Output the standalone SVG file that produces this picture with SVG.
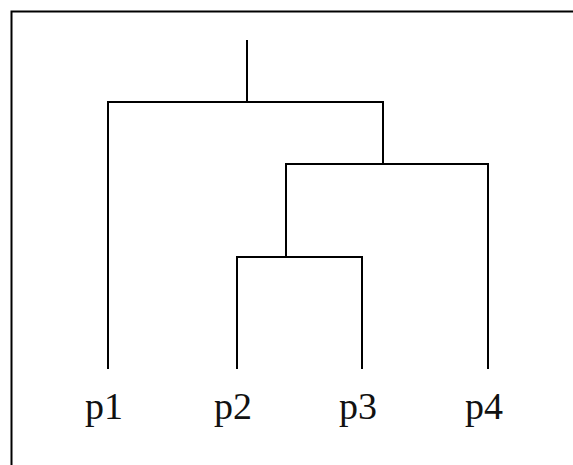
<svg xmlns="http://www.w3.org/2000/svg" width="573" height="465" viewBox="0 0 573 465">
  <style>
    .frame { fill: none; stroke: #000; stroke-width: 2; }
    .link { fill: none; stroke: #000; stroke-width: 2; stroke-linejoin: miter; stroke-linecap: square; }
    .label { font-family: "Liberation Serif", "Times New Roman", serif; font-size: 38px; fill: #111; text-anchor: middle; }
  </style>
  <rect width="573" height="465" fill="#fff"/>
  <!-- frame: only the top and left edges fall inside the canvas -->
  <path class="frame" d="M11.5 466 V11.5 H574"/>

  <g id="connectors">
    <!-- root stem -->
    <path class="link" d="M247 41 V102"/>
    <!-- root merge: p1 with {p2,p3,p4} -->
    <path class="link" d="M108 368 V102 H383 V164"/>
    <!-- merge {p2,p3} with p4 -->
    <path class="link" d="M286 257 V164 H488 V368"/>
    <!-- merge p2 with p3 -->
    <path class="link" d="M237 368 V257 H362 V368"/>
  </g>

  <g id="p1"><text class="label" x="104" y="419">p1</text></g>
  <g id="p2"><text class="label" x="233" y="419">p2</text></g>
  <g id="p3"><text class="label" x="358" y="419">p3</text></g>
  <g id="p4"><text class="label" x="484" y="419">p4</text></g>
</svg>
